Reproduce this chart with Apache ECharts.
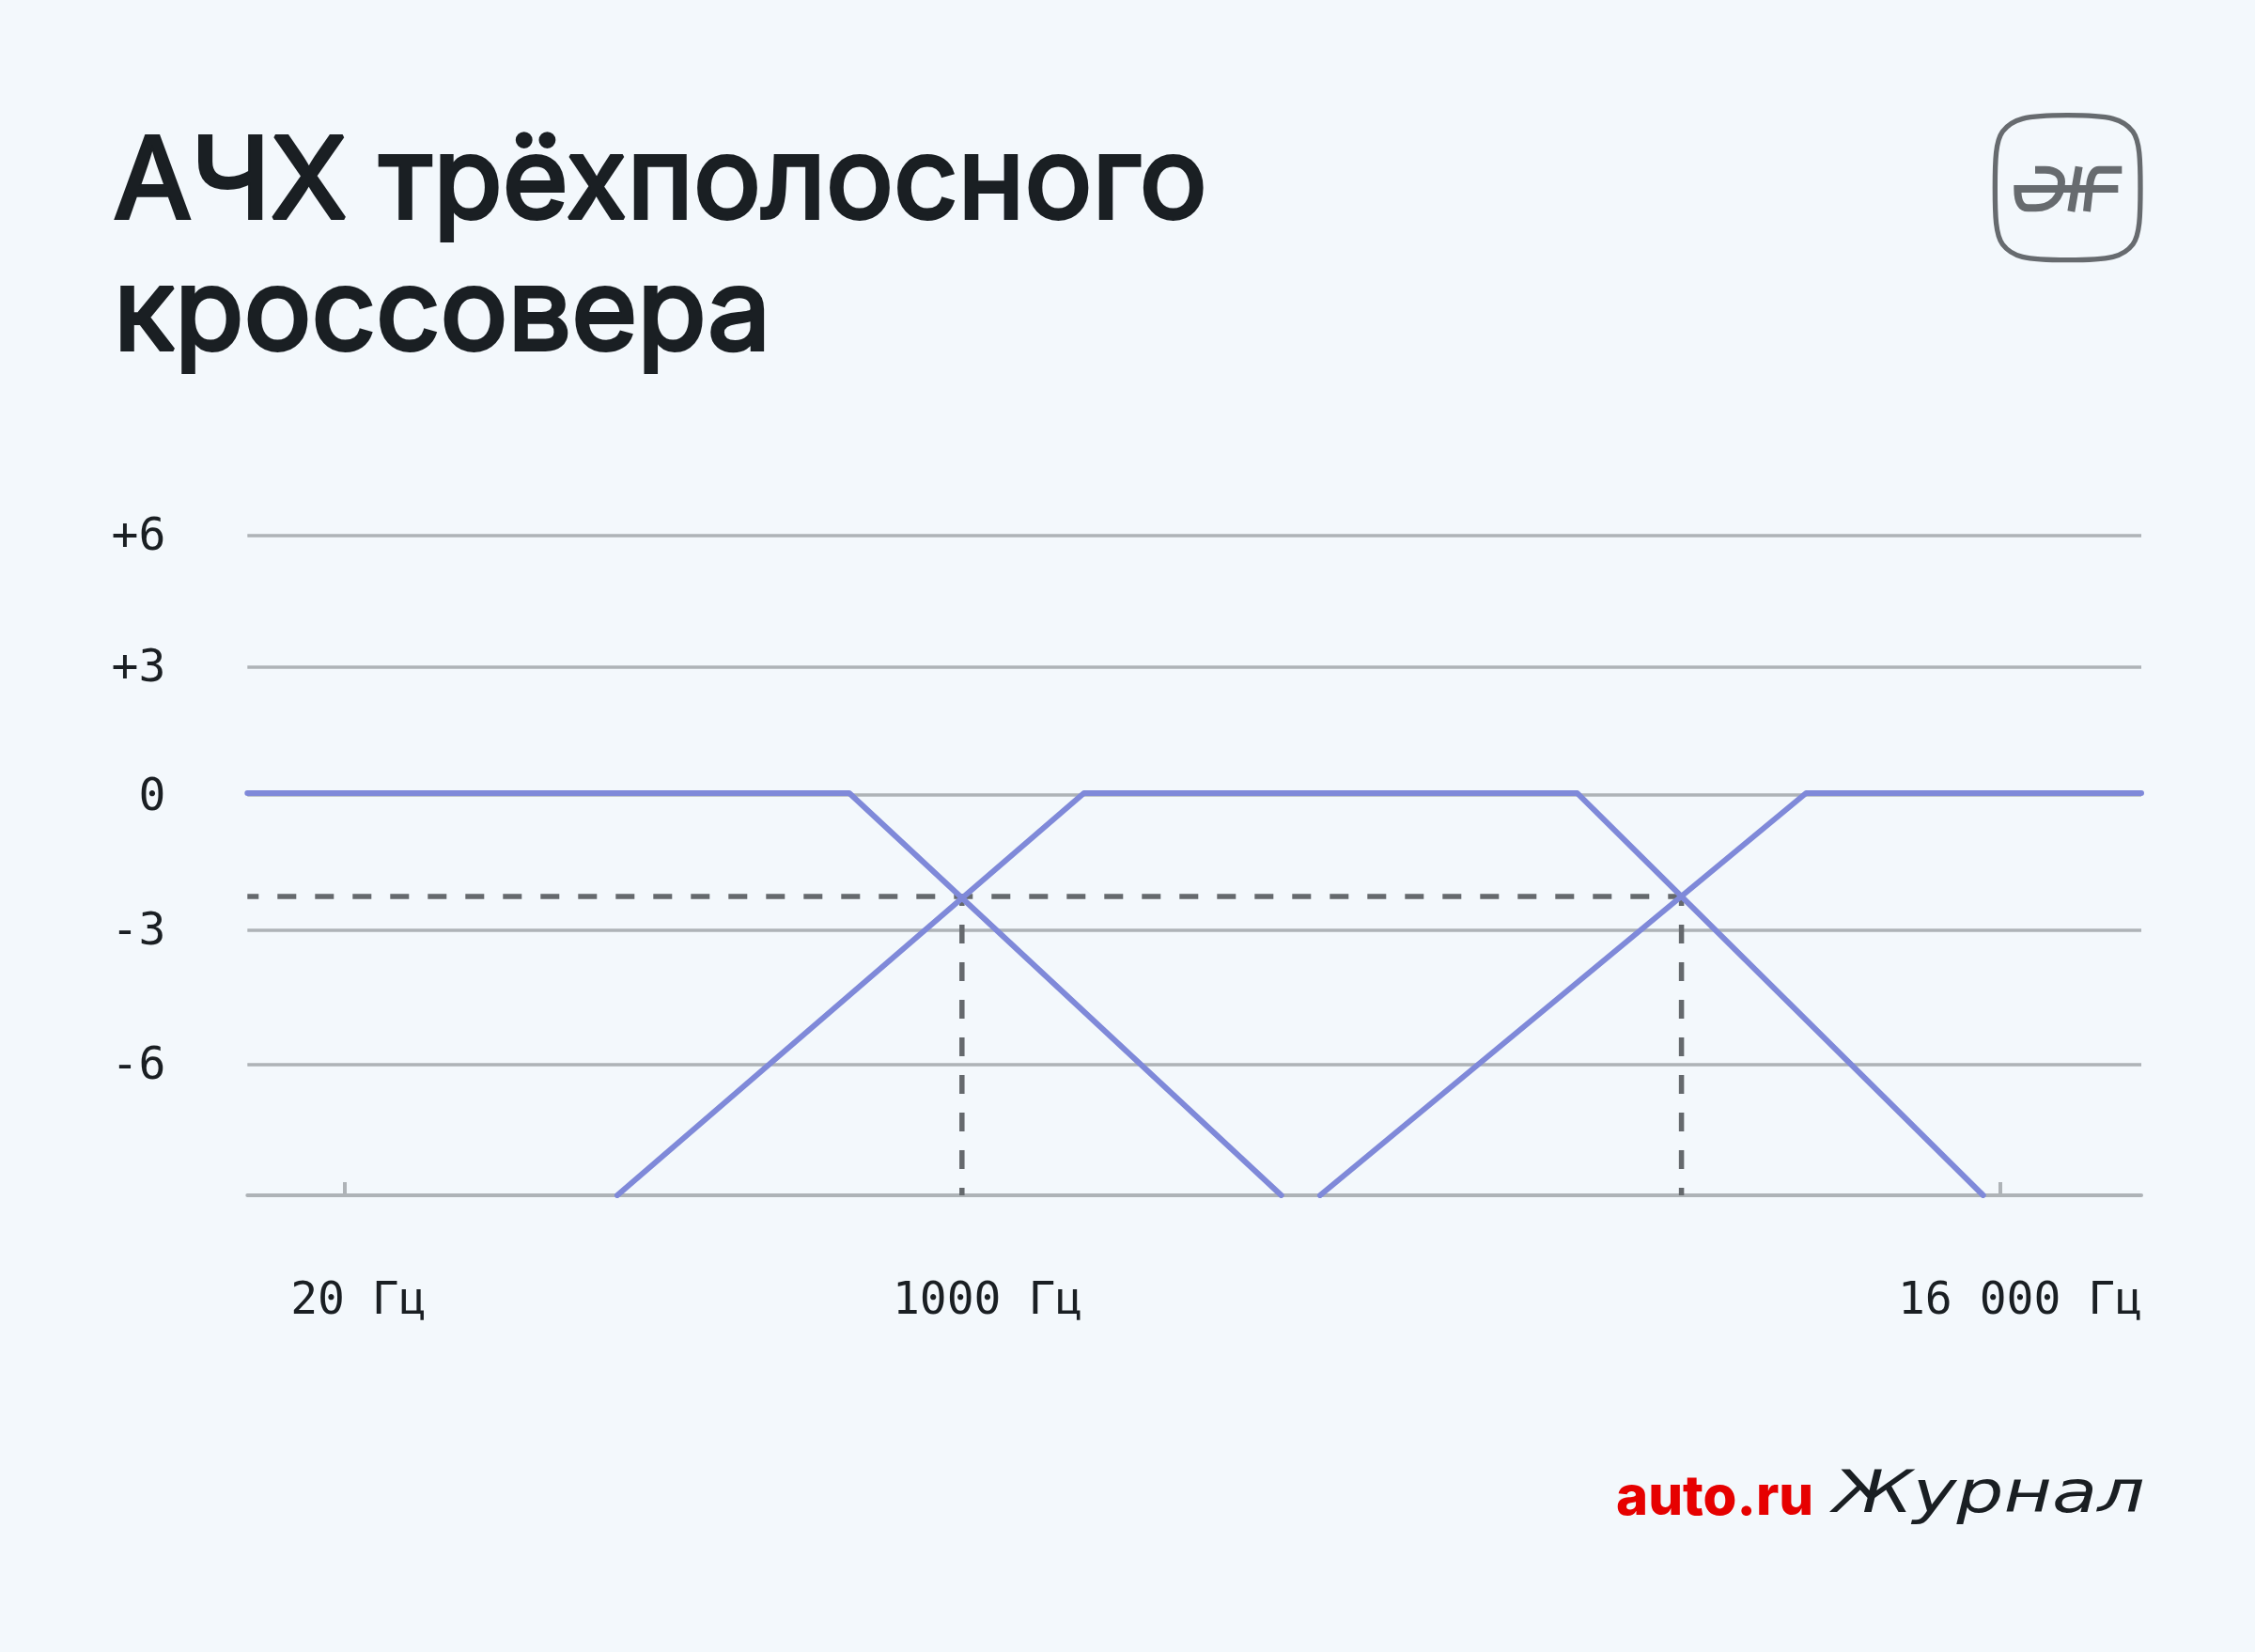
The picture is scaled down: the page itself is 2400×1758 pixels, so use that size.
<!DOCTYPE html>
<html><head><meta charset="utf-8">
<style>html,body{margin:0;padding:0;background:#f3f8fc}#c{width:2400px;height:1758px}</style>
<script src="https://cdn.jsdelivr.net/npm/echarts@6/dist/echarts.min.js"></script>
</head><body><div id="c"></div>
<script>
// x is the position along the schematic frequency axis, 0-100; y is level in dB
const titleText = 'АЧХ трёхполосного\nкроссовера';
const yTickValues = [-9, -6.02, -2.97, 0.1, 3.02, 6];
const yTickLabels = ['', '-6', '-3', '0', '+3', '+6'];
const xTickValues = [5.14, 92.54];
const xLabelValues = [5.86, 39.08, 93.6];
const xLabelTexts = ['20 Гц', '1000 Гц', '16 000 Гц'];
const flat = 0.145;
const floor = -9;
const lowBand = [[0, flat], [31.78, flat], [54.59, floor]];
const midBand = [[19.53, floor], [44.17, flat], [70.22, flat], [91.65, floor]];
const highBand = [[56.64, floor], [82.30, flat], [100, flat]];
const crossLevel = -2.205;
const crossA = 37.73;
const crossB = 75.72;
const dashH = [[0, crossLevel], [crossB, crossLevel]];
const dashA = [[crossA, crossLevel], [crossA, floor]];
const dashB = [[crossB, crossLevel], [crossB, floor]];

const BLUE = '#7f89d9', GREY = '#aeb3b7', DASH = '#65696d', INK = '#1a1f23';
const MONO = '"DejaVu Sans Mono"';
const blue = (name, data) => ({name, type:'line', data, symbol:'none', z:5, silent:true,
  lineStyle:{color:BLUE, width:6, cap:'round', join:'round'}});
const dash = (name, data, off) => ({name, type:'line', data, symbol:'none', z:3, silent:true,
  lineStyle:{color:DASH, width:5.5, type:[20,20], dashOffset:off, cap:'butt'}});

echarts.graphic.registerShape('logoRing', echarts.graphic.extendPath('M422 98 C560 98 600 110 630 150 C652 180 654 240 654 330 C654 420 652 480 630 510 C600 550 560 560 422 560 C284 560 244 550 214 510 C192 480 190 420 190 330 C190 240 192 180 214 150 C244 110 284 98 422 98 Z', {}));
echarts.graphic.registerShape('logoMark', echarts.graphic.extendPath('M318 272 L350 272 C385 272 402 290 402 310 C402 360 370 394 320 394 L295 394 C270 394 262 370 262 333 L583 333 M458 262 L433 405 M522 272 C505 272 498 290 494 310 L483 405 M522 272 L595 272', {}));

const chart = echarts.init(document.getElementById('c'), null, {renderer:'canvas', width:2400, height:1758});
chart.setOption({
  animation:false,
  backgroundColor:'#f3f8fc',
  title:{text:titleText, left:116, top:121, textStyle:{fontFamily:'Inter', fontWeight:400, fontSize:120, lineHeight:140, color:INK, textBorderColor:INK, textBorderWidth:4}},
  grid:{left:263.3, right:121, top:570, bottom:486, containLabel:false},
  xAxis:{type:'value', min:0, max:100, splitLine:{show:false},
    axisLine:{show:true, onZero:false, lineStyle:{color:GREY, width:4}},
    axisTick:{show:true, inside:true, length:14, customValues:xTickValues, lineStyle:{color:GREY, width:4}},
    axisLabel:{show:true, customValues:xLabelValues, margin:90, fontFamily:MONO, fontSize:48, color:INK,
      formatter:v => xLabelTexts[xLabelValues.indexOf(v)]}},
  yAxis:{type:'value', min:-9, max:6,
    axisLine:{show:false},
    axisTick:{show:false, customValues:yTickValues},
    splitLine:{show:true, lineStyle:{color:GREY, width:3.5}},
    axisLabel:{show:true, customValues:yTickValues, margin:87, fontFamily:MONO, fontSize:48, color:INK, align:'right',
      formatter:v => { const t = yTickLabels[yTickValues.indexOf(v)]; return t ? '{a|' + t + '}' : ''; },
      rich:{a:{fontFamily:MONO, fontSize:48, color:INK, padding:[6,0,0,0]}}}},
  series:[dash('Уровень раздела', dashH, 8), dash('Раздел 1', dashA, 10), dash('Раздел 2', dashB, 10),
    blue('НЧ', lowBand), blue('СЧ', midBand), blue('ВЧ', highBand)],
  graphic:[
    {type:'group', x:2060, y:90, scaleX:1/3, scaleY:1/3, children:[
      {type:'logoRing', style:{fill:'none', stroke:'#676b6f', lineWidth:16}},
      {type:'logoMark', style:{fill:'none', stroke:'#676b6f', lineWidth:24}}
    ]},
    {type:'text', x:1720, y:1624, style:{text:'auto.ru', fill:'#e60000', fontFamily:'Inter', fontWeight:800, fontSize:58, verticalAlign:'bottom', align:'left'}},
    {type:'text', x:1951, y:1624, scaleX:1.27, style:{text:'Журнал', fill:INK, fontFamily:'DejaVu Sans', fontStyle:'italic', fontSize:62, verticalAlign:'bottom', align:'left'}}
  ]
});
</script></body></html>
